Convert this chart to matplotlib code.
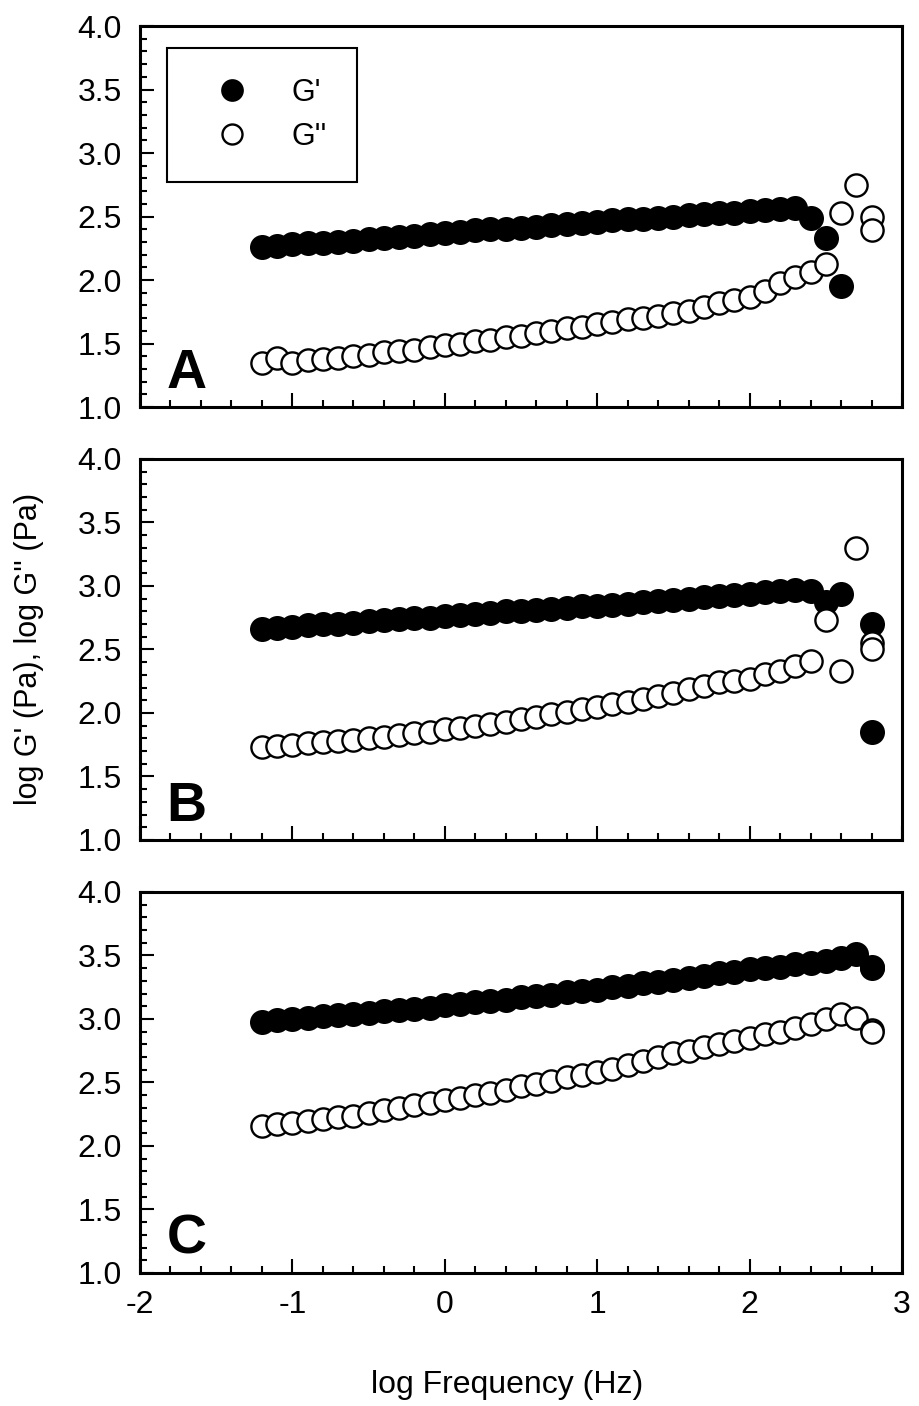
import numpy as np
import matplotlib
matplotlib.use('Agg')
import matplotlib.pyplot as plt
from matplotlib.ticker import MultipleLocator, FormatStrFormatter

plt.rcParams['font.family'] = ['Liberation Sans', 'DejaVu Sans']
plt.rcParams['axes.unicode_minus'] = False

# log frequency (Hz); the sweep ends with two readings at the top frequency
log_freq = [-1.2, -1.1, -1.0, -0.9, -0.8, -0.7, -0.6, -0.5, -0.4, -0.3,
            -0.2, -0.1, 0.0, 0.1, 0.2, 0.3, 0.4, 0.5, 0.6, 0.7,
            0.8, 0.9, 1.0, 1.1, 1.2, 1.3, 1.4, 1.5, 1.6, 1.7,
            1.8, 1.9, 2.0, 2.1, 2.2, 2.3, 2.4, 2.5, 2.6, 2.7,
            2.8, 2.8]

nan = np.nan

# sample A
gp_a = [2.26, 2.27, 2.28, 2.29, 2.29, 2.30, 2.31, 2.32, 2.33, 2.34,
        2.35, 2.36, 2.37, 2.38, 2.39, 2.40, 2.40, 2.41, 2.42, 2.43,
        2.44, 2.45, 2.46, 2.47, 2.48, 2.48, 2.49, 2.50, 2.51, 2.52,
        2.53, 2.53, 2.54, 2.55, 2.56, 2.57, 2.49, 2.33, 1.95, nan,
        nan, nan]
gpp_a = [1.35, 1.39, 1.35, 1.37, 1.38, 1.39, 1.40, 1.41, 1.43, 1.44,
         1.45, 1.47, 1.49, 1.50, 1.52, 1.53, 1.55, 1.56, 1.58, 1.60,
         1.62, 1.63, 1.65, 1.67, 1.69, 1.70, 1.72, 1.74, 1.76, 1.79,
         1.82, 1.84, 1.87, 1.91, 1.98, 2.02, 2.06, 2.13, 2.53, 2.75,
         2.50, 2.39]

# sample B
gp_b = [2.66, 2.67, 2.68, 2.69, 2.70, 2.70, 2.71, 2.72, 2.73, 2.74,
        2.75, 2.75, 2.76, 2.77, 2.78, 2.79, 2.80, 2.80, 2.81, 2.82,
        2.83, 2.84, 2.84, 2.85, 2.86, 2.87, 2.88, 2.89, 2.90, 2.91,
        2.92, 2.93, 2.94, 2.95, 2.96, 2.97, 2.96, 2.87, 2.94, nan,
        2.70, 1.85]
gpp_b = [1.73, 1.74, 1.75, 1.76, 1.77, 1.78, 1.79, 1.80, 1.81, 1.83,
         1.84, 1.85, 1.87, 1.88, 1.90, 1.91, 1.93, 1.95, 1.97, 1.99,
         2.01, 2.03, 2.05, 2.07, 2.09, 2.11, 2.13, 2.16, 2.19, 2.21,
         2.24, 2.25, 2.27, 2.31, 2.33, 2.37, 2.41, 2.73, 2.33, 3.30,
         2.55, 2.50]

# sample C
gp_c = [2.98, 2.99, 3.00, 3.01, 3.02, 3.03, 3.04, 3.05, 3.06, 3.07,
        3.08, 3.09, 3.11, 3.12, 3.13, 3.14, 3.15, 3.17, 3.18, 3.19,
        3.21, 3.22, 3.23, 3.25, 3.26, 3.28, 3.29, 3.31, 3.32, 3.34,
        3.36, 3.37, 3.39, 3.40, 3.41, 3.43, 3.44, 3.46, 3.48, 3.51,
        3.41, 3.40]
gpp_c = [2.16, 2.17, 2.18, 2.20, 2.21, 2.23, 2.24, 2.26, 2.28, 2.30,
         2.32, 2.34, 2.36, 2.38, 2.40, 2.42, 2.44, 2.47, 2.49, 2.51,
         2.54, 2.56, 2.58, 2.61, 2.64, 2.67, 2.70, 2.73, 2.75, 2.78,
         2.80, 2.83, 2.85, 2.88, 2.90, 2.93, 2.96, 3.00, 3.04, 3.01,
         2.91, 2.90]

panel_labels = ['A', 'B', 'C']
storage = [gp_a, gp_b, gp_c]
loss = [gpp_a, gpp_b, gpp_c]

FS = 23

fig = plt.figure(figsize=(9.19, 14.06), dpi=100)
left, width = 0.1523, 0.8292
bottoms = [0.7105, 0.4026, 0.0946]
height = 0.2710

axes = []
for i, (lbl, gp, gpp) in enumerate(zip(panel_labels, storage, loss)):
    ax = fig.add_axes([left, bottoms[i], width, height])
    axes.append(ax)
    ax.plot(log_freq, gp, 'o', ms=16.5, mfc='black', mec='black', mew=1.5,
            ls='none', label="G'")
    ax.plot(log_freq, gpp, 'o', ms=16, mfc='white', mec='black', mew=1.7,
            ls='none', label="G''")

    ax.set_xlim(-2, 3)
    ax.set_ylim(1.0, 4.0)
    ax.xaxis.set_major_locator(MultipleLocator(1))
    ax.xaxis.set_minor_locator(MultipleLocator(0.2))
    ax.yaxis.set_major_locator(MultipleLocator(0.5))
    ax.yaxis.set_minor_locator(MultipleLocator(0.1))
    ax.yaxis.set_major_formatter(FormatStrFormatter('%.1f'))
    ax.tick_params(which='both', direction='in', top=False, right=False,
                   width=1.5, labelsize=FS)
    ax.tick_params(which='major', length=10)
    ax.tick_params(which='minor', length=5)
    ax.tick_params(axis='y', pad=13)
    ax.tick_params(axis='x', pad=12)
    for sp in ax.spines.values():
        sp.set_linewidth(2.2)
    if i < 2:
        ax.tick_params(axis='x', labelbottom=False)

    ax.text(0.035, 0.05, lbl, transform=ax.transAxes, fontsize=40,
            fontweight='bold', ha='left', va='baseline')

leg = axes[0].legend(loc='upper left', bbox_to_anchor=(0.035, 0.942),
                     borderaxespad=0, fancybox=False, framealpha=1,
                     edgecolor='black', fontsize=22, numpoints=1,
                     borderpad=0.97, labelspacing=0.47, handlelength=2.35,
                     handletextpad=0.78, markerscale=0.9)
leg.get_frame().set_linewidth(1.5)

axes[1].set_ylabel("log G' (Pa), log G'' (Pa)", fontsize=22, labelpad=24)
axes[2].set_xlabel('log Frequency (Hz)', fontsize=FS)
axes[2].xaxis.set_label_coords(0.482, -0.255)

fig.savefig('out.png', dpi=100)
plt.close(fig)
